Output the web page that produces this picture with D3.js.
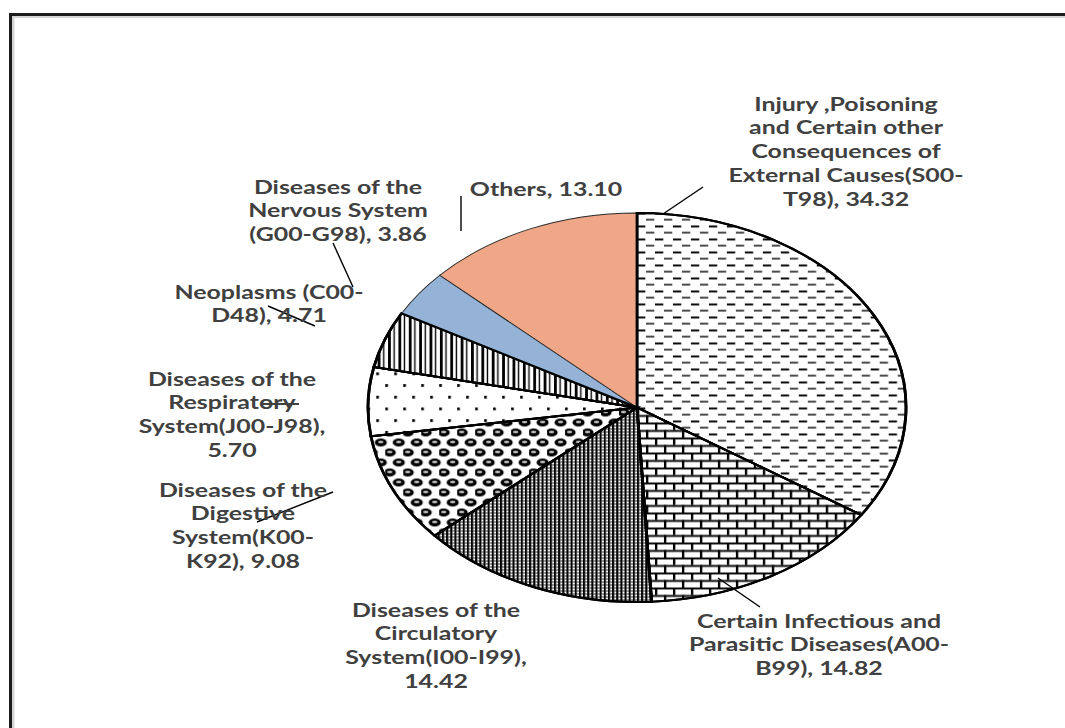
<!DOCTYPE html>
<html>
<head>
<meta charset="utf-8">
<script src="https://cdn.jsdelivr.net/npm/d3@7"></script>
<style>
  html, body { margin: 0; padding: 0; background: #fff; }
  svg { display: block; }
</style>
</head>
<body>
<svg id="chart" width="1065" height="728"></svg>
<script>
// ---------------- data ----------------
const categories = [
  "Injury ,Poisoning|and Certain other|Consequences of|External Causes(S00-|T98)",
  "Certain Infectious and|Parasitic Diseases(A00-|B99)",
  "Diseases of the|Circulatory|System(I00-I99)",
  "Diseases of the|Digestive|System(K00-|K92)",
  "Diseases of the|Respiratory|System(J00-J98)",
  "Neoplasms (C00-|D48)",
  "Diseases of the|Nervous System|(G00-G98)",
  "Others"
];
const values = [34.32, 14.82, 14.42, 9.08, 5.70, 4.71, 3.86, 13.10];
const valueOnNewLine = [false, false, true, false, true, false, false, false];

// ---------------- layout / style config ----------------
const W = 1065, H = 728;
const cx = 637, cy = 407.5, ry = 194.5, rx = 269;
const sx = rx / ry;               // horizontal stretch of the whole picture
const fills = ["url(#pDash)", "url(#pBrick)", "url(#pGrid)", "url(#pSphere)",
               "url(#pDots)", "url(#pVert)", "#95B3D7", "#F0A788"];
const strokeW = [2, 2, 2, 2, 2, 2, 0.8, 0.8];
const strokeC = ["#000", "#000", "#000", "#000", "#000", "#000", "#2a2a2a", "#2a2a2a"];
// label anchor (centre x, centre y of first line) in page pixels
const labelPos = [[846,104],[819,621],[436,610],[243,490],[232,379],[269,292],[338,187],[546,189]];
// leader lines in page pixels
const leaders = [
  [[663,214],[703,187]],
  [[718,578],[760,607]],
  null,
  [[333,492],[257,522]],
  [[262,404],[299,404]],
  [[268,306],[315,326]],
  [[333,243],[353,287]],
  [[461,196],[461,231]]
];
const lineH = 24;

const svg = d3.select("#chart");

// frame (top & left edges)
svg.append("rect").attr("x", 12).attr("y", 15.5).attr("width", W).attr("height", 2.5).attr("fill", "#d4d4d4");
svg.append("rect").attr("x", 12).attr("y", 15.5).attr("width", 2.5).attr("height", H).attr("fill", "#d4d4d4");
svg.append("rect").attr("x", 9).attr("y", 13).attr("width", W).attr("height", 3).attr("fill", "#1c1c1c");
svg.append("rect").attr("x", 9).attr("y", 13).attr("width", 3).attr("height", H).attr("fill", "#1c1c1c");

// ---------------- patterns (in un-stretched units) ----------------
const defs = svg.append("defs");
function pat(id, w, h) {
  return defs.append("pattern").attr("id", id).attr("patternUnits", "userSpaceOnUse")
    .attr("width", w).attr("height", h);
}
{
  const p = pat("pDash", 13, 13);
  p.append("rect").attr("width", 13).attr("height", 13).attr("fill", "#fff");
  p.append("rect").attr("x", 0).attr("y", 0).attr("width", 6).attr("height", 1.9).attr("fill", "#000");
  p.append("rect").attr("x", 6.5).attr("y", 6.5).attr("width", 6).attr("height", 1.4).attr("fill", "#000");
}
{
  const p = pat("pBrick", 13, 15);
  p.append("rect").attr("width", 13).attr("height", 15).attr("fill", "#fff");
  p.append("rect").attr("x", 0).attr("y", 0).attr("width", 13).attr("height", 1.9).attr("fill", "#000");
  p.append("rect").attr("x", 0).attr("y", 7.5).attr("width", 13).attr("height", 1.9).attr("fill", "#000");
  p.append("rect").attr("x", 0).attr("y", 0).attr("width", 1.7).attr("height", 7.5).attr("fill", "#000");
  p.append("rect").attr("x", 6.5).attr("y", 7.5).attr("width", 1.7).attr("height", 7.5).attr("fill", "#000");
}
{
  const p = pat("pGrid", 3, 3);
  p.append("rect").attr("width", 3).attr("height", 3).attr("fill", "#fff");
  p.append("rect").attr("x", 0).attr("y", 0).attr("width", 1.5).attr("height", 3).attr("fill", "#000");
  p.append("rect").attr("x", 1.5).attr("y", 0).attr("width", 1.5).attr("height", 0.8).attr("fill", "#000");
}
{
  const p = pat("pSphere", 13, 20);
  p.append("rect").attr("width", 13).attr("height", 20).attr("fill", "#fff");
  [[3.25, 5], [9.75, 15], [9.75, -5], [-3.25, 15], [16.25, 15], [3.25, 25]].forEach(([x, y]) => {
    p.append("ellipse").attr("cx", x).attr("cy", y).attr("rx", 4.4).attr("ry", 4.0).attr("fill", "#000");
    p.append("ellipse").attr("cx", x).attr("cy", y - 0.6).attr("rx", 2.0).attr("ry", 1.0).attr("fill", "#fff");
  });
}
{
  const p = pat("pDots", 13, 23.4);
  p.append("rect").attr("width", 13).attr("height", 23.4).attr("fill", "#fff");
  p.append("rect").attr("x", 0).attr("y", 0).attr("width", 1.9).attr("height", 2.8).attr("fill", "#000");
  p.append("rect").attr("x", 6.5).attr("y", 11.7).attr("width", 1.9).attr("height", 2.8).attr("fill", "#000");
}
{
  const p = pat("pVert", 7.5, 10);
  p.append("rect").attr("width", 7.5).attr("height", 10).attr("fill", "#fff");
  p.append("rect").attr("x", 0).attr("y", 0).attr("width", 2.0).attr("height", 10).attr("fill", "#000");
  p.append("rect").attr("x", 3.9).attr("y", 0).attr("width", 1.0).attr("height", 10).attr("fill", "#000");
}

// ---------------- pie ----------------
const pie = d3.pie().sort(null).value(d => d)(values);
const arc = d3.arc().innerRadius(0).outerRadius(ry);
const g = svg.append("g").attr("transform", `translate(${cx},${cy}) scale(${sx},1)`);
g.selectAll("path").data(pie).join("path")
  .attr("d", arc)
  .attr("fill", (d, i) => fills[i])
  .attr("stroke", (d, i) => strokeC[i])
  .attr("stroke-width", (d, i) => strokeW[i])
  .attr("stroke-linejoin", "round");
g.selectAll("path.edge").data(pie.slice(0, 6)).join("path").attr("class", "edge")
  .attr("d", arc).attr("fill", "none").attr("stroke", "#000").attr("stroke-width", 2);

// ---------------- leader lines ----------------
leaders.forEach(l => {
  if (!l) return;
  svg.append("line").attr("x1", l[0][0]).attr("y1", l[0][1]).attr("x2", l[1][0]).attr("y2", l[1][1])
    .attr("stroke", "#000").attr("stroke-width", 1.4);
});

// ---------------- labels ----------------
categories.forEach((c, i) => {
  const v = values[i].toFixed(2);
  const full = c + (valueOnNewLine[i] ? ",|" : ", ") + v;
  const lines = full.split("|");
  const lg = svg.append("g").attr("transform", `translate(${labelPos[i][0]},${labelPos[i][1]}) scale(${sx},1)`);
  lines.forEach((t, k) => {
    lg.append("text").attr("x", 0).attr("y", k * lineH + 6.5)
      .attr("text-anchor", "middle")
      .attr("font-family", "Lato, 'Open Sans', sans-serif")
      .attr("font-weight", "bold")
      .attr("font-size", 18)
      .attr("fill", "#404040")
      .text(t);
  });
});
</script>
</body>
</html>
